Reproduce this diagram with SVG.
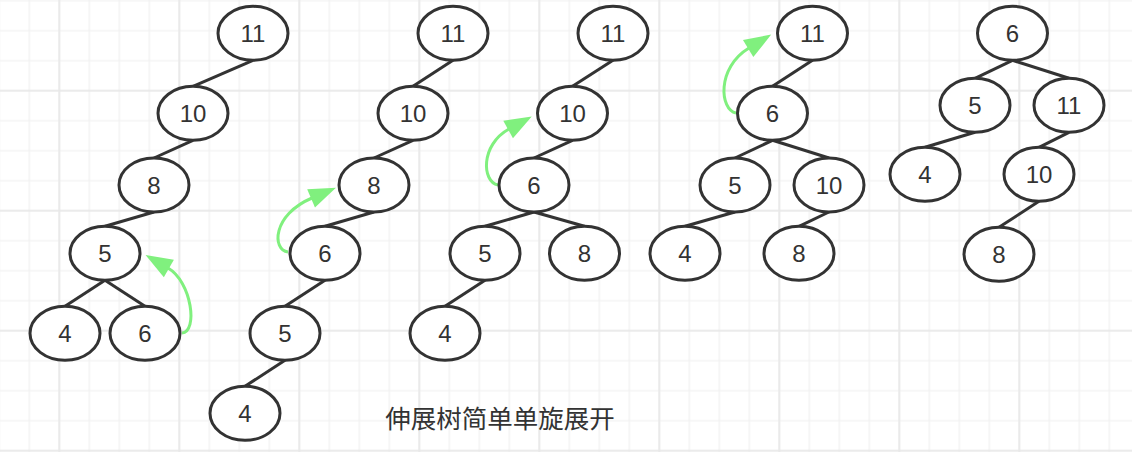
<svg xmlns="http://www.w3.org/2000/svg" width="1132" height="452" viewBox="0 0 1132 452">
<defs>
<pattern id="minor" patternUnits="userSpaceOnUse" x="14.3" y="-14.3" width="30" height="30">
<path d="M0,15 H30 M15,0 V30" stroke="#f0f0f0" stroke-width="1.2" fill="none"/>
</pattern>
<pattern id="major" patternUnits="userSpaceOnUse" x="-0.7" y="30.7" width="120" height="120">
<path d="M0,60 H120 M60,0 V120" stroke="#e8e8e8" stroke-width="1.6" fill="none"/>
</pattern>
<marker id="gh" markerUnits="userSpaceOnUse" markerWidth="28" markerHeight="22" viewBox="0 0 28 22" refX="1" refY="10" orient="auto" overflow="visible">
<path d="M0,0 L27,10 L0,20 z" fill="#80f07e"/>
</marker>
</defs>
<style>
.n ellipse{fill:#fff;stroke:#333;stroke-width:3}
.n text{font-family:"Liberation Sans","Noto Sans",sans-serif;font-size:24px;fill:#333;text-anchor:middle;dominant-baseline:central}
#edges line{stroke:#333;stroke-width:3}
.g{fill:none;stroke:#80f07e;stroke-width:3;marker-end:url(#gh)}
.cap{font-family:"Noto Sans CJK SC","Liberation Sans",sans-serif;font-size:25.5px;fill:#333;text-anchor:middle}
</style>
<rect width="1132" height="452" fill="#fff"/>
<rect width="1132" height="452" fill="url(#minor)"/>
<rect width="1132" height="452" fill="url(#major)"/>

<g id="edges">
<!-- tree 1 -->
<line x1="253" y1="60.3" x2="193" y2="86.3"/>
<line x1="193" y1="140.3" x2="154" y2="158"/>
<line x1="154" y1="212" x2="105" y2="226.3"/>
<line x1="105" y1="280.3" x2="65" y2="306.3"/>
<line x1="105" y1="280.3" x2="145" y2="306.3"/>
<!-- tree 2 -->
<line x1="453" y1="60.3" x2="413" y2="86.3"/>
<line x1="413" y1="140.3" x2="374" y2="158"/>
<line x1="374" y1="212" x2="325" y2="226.3"/>
<line x1="325" y1="280.3" x2="285" y2="306.3"/>
<line x1="285" y1="360.3" x2="245" y2="386.3"/>
<!-- tree 3 -->
<line x1="613" y1="60.3" x2="572.5" y2="86.3"/>
<line x1="572.5" y1="140.3" x2="534" y2="158"/>
<line x1="534" y1="212" x2="485" y2="226.3"/>
<line x1="534" y1="212" x2="584.5" y2="226.3"/>
<line x1="485" y1="280.3" x2="445" y2="306.3"/>
<!-- tree 4 -->
<line x1="812.5" y1="60.3" x2="772.5" y2="86.3"/>
<line x1="772.5" y1="140.3" x2="735" y2="158"/>
<line x1="772.5" y1="140.3" x2="829" y2="158"/>
<line x1="735" y1="212" x2="685" y2="226.3"/>
<line x1="829" y1="212" x2="799" y2="226.3"/>
<!-- tree 5 -->
<line x1="1012.5" y1="60.3" x2="975" y2="78.3"/>
<line x1="1012.5" y1="60.3" x2="1069" y2="78.3"/>
<line x1="975" y1="132.3" x2="925" y2="147.3"/>
<line x1="1069" y1="132.3" x2="1039" y2="147.3"/>
<line x1="1039" y1="201.3" x2="999" y2="227.3"/>
<!-- rotation arrows -->
<path class="g" d="M182,333 C198,332 192,282 168,268"/>
<path class="g" d="M288,252 C272,250 272,215 312,198"/>
<path class="g" d="M498,185 C482,182 480,145 509,129"/>
<path class="g" d="M736,113 C720,110 716,68 749,48"/>
</g>

<g id="t1-11" class="n"><ellipse cx="253" cy="33.3" rx="35" ry="27"/><text x="253" y="33.3">11</text></g>
<g id="t1-10" class="n"><ellipse cx="193" cy="113.3" rx="35" ry="27"/><text x="193" y="113.3">10</text></g>
<g id="t1-8" class="n"><ellipse cx="154" cy="185" rx="35" ry="27"/><text x="154" y="185">8</text></g>
<g id="t1-5" class="n"><ellipse cx="105" cy="253.3" rx="35" ry="27"/><text x="105" y="253.3">5</text></g>
<g id="t1-4" class="n"><ellipse cx="65" cy="333.3" rx="35" ry="27"/><text x="65" y="333.3">4</text></g>
<g id="t1-6" class="n"><ellipse cx="145" cy="333.3" rx="35" ry="27"/><text x="145" y="333.3">6</text></g>

<g id="t2-11" class="n"><ellipse cx="453" cy="33.3" rx="35" ry="27"/><text x="453" y="33.3">11</text></g>
<g id="t2-10" class="n"><ellipse cx="413" cy="113.3" rx="35" ry="27"/><text x="413" y="113.3">10</text></g>
<g id="t2-8" class="n"><ellipse cx="374" cy="185" rx="35" ry="27"/><text x="374" y="185">8</text></g>
<g id="t2-6" class="n"><ellipse cx="325" cy="253.3" rx="35" ry="27"/><text x="325" y="253.3">6</text></g>
<g id="t2-5" class="n"><ellipse cx="285" cy="333.3" rx="35" ry="27"/><text x="285" y="333.3">5</text></g>
<g id="t2-4" class="n"><ellipse cx="245" cy="413.3" rx="35" ry="27"/><text x="245" y="413.3">4</text></g>

<g id="t3-11" class="n"><ellipse cx="613" cy="33.3" rx="35" ry="27"/><text x="613" y="33.3">11</text></g>
<g id="t3-10" class="n"><ellipse cx="572.5" cy="113.3" rx="35" ry="27"/><text x="572.5" y="113.3">10</text></g>
<g id="t3-6" class="n"><ellipse cx="534" cy="185" rx="35" ry="27"/><text x="534" y="185">6</text></g>
<g id="t3-5" class="n"><ellipse cx="485" cy="253.3" rx="35" ry="27"/><text x="485" y="253.3">5</text></g>
<g id="t3-8" class="n"><ellipse cx="584.5" cy="253.3" rx="35" ry="27"/><text x="584.5" y="253.3">8</text></g>
<g id="t3-4" class="n"><ellipse cx="445" cy="333.3" rx="35" ry="27"/><text x="445" y="333.3">4</text></g>

<g id="t4-11" class="n"><ellipse cx="812.5" cy="33.3" rx="35" ry="27"/><text x="812.5" y="33.3">11</text></g>
<g id="t4-6" class="n"><ellipse cx="772.5" cy="113.3" rx="35" ry="27"/><text x="772.5" y="113.3">6</text></g>
<g id="t4-5" class="n"><ellipse cx="735" cy="185" rx="35" ry="27"/><text x="735" y="185">5</text></g>
<g id="t4-10" class="n"><ellipse cx="829" cy="185" rx="35" ry="27"/><text x="829" y="185">10</text></g>
<g id="t4-4" class="n"><ellipse cx="685" cy="253.3" rx="35" ry="27"/><text x="685" y="253.3">4</text></g>
<g id="t4-8" class="n"><ellipse cx="799" cy="253.3" rx="35" ry="27"/><text x="799" y="253.3">8</text></g>

<g id="t5-6" class="n"><ellipse cx="1012.5" cy="33.3" rx="35" ry="27"/><text x="1012.5" y="33.3">6</text></g>
<g id="t5-5" class="n"><ellipse cx="975" cy="105.3" rx="35" ry="27"/><text x="975" y="105.3">5</text></g>
<g id="t5-11" class="n"><ellipse cx="1069" cy="105.3" rx="35" ry="27"/><text x="1069" y="105.3">11</text></g>
<g id="t5-4" class="n"><ellipse cx="925" cy="174.3" rx="35" ry="27"/><text x="925" y="174.3">4</text></g>
<g id="t5-10" class="n"><ellipse cx="1039" cy="174.3" rx="35" ry="27"/><text x="1039" y="174.3">10</text></g>
<g id="t5-8" class="n"><ellipse cx="999" cy="254.3" rx="35" ry="27"/><text x="999" y="254.3">8</text></g>

<g id="caption"><text class="cap" x="500" y="428">伸展树简单单旋展开</text></g>
</svg>
